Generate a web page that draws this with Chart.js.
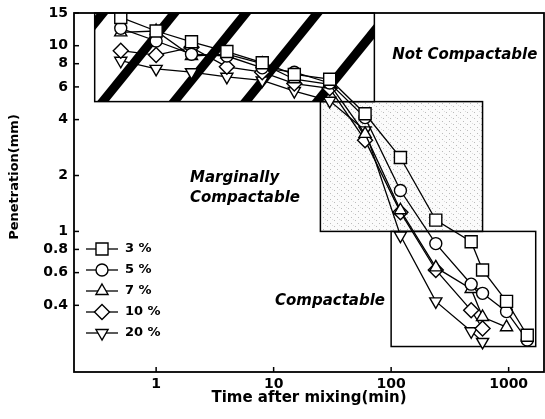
<!DOCTYPE html>
<html><head><meta charset="utf-8">
<script src="https://cdn.jsdelivr.net/npm/chart.js@4/dist/chart.umd.min.js"></script>
<style>html,body{margin:0;padding:0;background:#fff;}</style>
</head><body>
<canvas id="c" width="545" height="419"></canvas>
<script>
// ---- data ----
const seriesLabels = ['3 %', '5 %', '7 %', '10 %', '20 %'];
const times3  = [0.5, 1, 2, 4, 8, 15, 30, 60, 120, 240, 480, 600, 960, 1440];
const pen3    = [14.2, 12.0, 10.5, 9.3, 8.1, 7.0, 6.6, 4.3, 2.5, 1.15, 0.88, 0.62, 0.42, 0.276];
const times5  = [0.5, 1, 2, 4, 8, 15, 30, 60, 120, 240, 480, 600, 960, 1440];
const pen5    = [12.4, 10.6, 9.0, 8.8, 7.6, 7.2, 6.3, 4.1, 1.66, 0.86, 0.52, 0.464, 0.37, 0.26];
const times7  = [0.5, 1, 2, 4, 8, 15, 30, 60, 120, 240, 480, 600, 960];
const pen7    = [11.8, 12.0, 8.8, 9.0, 8.0, 6.6, 6.2, 3.35, 1.3, 0.64, 0.49, 0.346, 0.305];
const times10 = [0.5, 1, 2, 4, 8, 15, 30, 60, 120, 240, 480, 600];
const pen10   = [9.4, 8.9, 9.8, 7.7, 7.2, 6.25, 5.9, 3.1, 1.27, 0.62, 0.376, 0.30];
const times20 = [0.5, 1, 2, 4, 8, 15, 30, 60, 120, 240, 480, 600];
const pen20   = [8.3, 7.5, 7.2, 6.8, 6.5, 5.7, 5.05, 3.5, 0.95, 0.42, 0.29, 0.254];
const xTicks = [1, 10, 100, 1000];
const yTicks = [0.4, 0.6, 0.8, 1, 2, 4, 6, 8, 10, 15];
// zone limits (data units)
const notCompX = [0.3, 72],  notCompY = [5, 15];
const margX    = [25, 600],  margY    = [1, 5];
const compX    = [100, 1700], compY   = [0.24, 1];

const FONT = "'DejaVu Sans'";
const toPts = (t, v) => t.map((x, i) => ({x: x, y: v[i]}));
const styles = [
  {pointStyle: 'rect', rot: 0, r: 8.5},
  {pointStyle: 'circle', rot: 0, r: 6},
  {pointStyle: 'triangle', rot: 0, r: 7},
  {pointStyle: 'rectRot', rot: 0, r: 7.5},
  {pointStyle: 'triangle', rot: 180, r: 7}
];
const allData = [toPts(times3, pen3), toPts(times5, pen5), toPts(times7, pen7), toPts(times10, pen10), toPts(times20, pen20)];

const datasets = allData.map((d, i) => ({
  label: seriesLabels[i], data: d,
  borderColor: '#000', borderWidth: 1.3, backgroundColor: '#fff',
  pointStyle: styles[i].pointStyle, pointRotation: styles[i].rot,
  pointRadius: styles[i].r, pointBorderWidth: 1.4,
  pointBackgroundColor: '#fff', pointBorderColor: '#000',
  tension: 0, fill: false
}));

function stipple() {
  const c = document.createElement('canvas'); c.width = 7; c.height = 6;
  const g = c.getContext('2d');
  g.fillStyle = '#fbfbfb'; g.fillRect(0, 0, 7, 6);
  g.fillStyle = '#bbb'; g.fillRect(1, 1, 1, 1); g.fillRect(5, 4, 1, 1);
  g.fillStyle = '#ddd'; g.fillRect(3, 3, 1, 1);
  return c;
}

function drawMarker(ctx, st, x, y) {
  ctx.save();
  ctx.fillStyle = '#fff'; ctx.strokeStyle = '#000'; ctx.lineWidth = 1.4;
  if (Chart.helpers && Chart.helpers.drawPoint) {
    Chart.helpers.drawPoint(ctx, {pointStyle: st.pointStyle, rotation: st.rot, radius: st.r, borderWidth: 1.4}, x, y);
  }
  ctx.restore();
}

const zonePlugin = {
  id: 'zones',
  beforeDatasetsDraw(chart) {
    const ctx = chart.ctx, xs = chart.scales.x, ys = chart.scales.y;
    const rect = (X, Y) => {
      const l = xs.getPixelForValue(X[0]), r = xs.getPixelForValue(X[1]);
      const t = ys.getPixelForValue(Y[1]), b = ys.getPixelForValue(Y[0]);
      return {l, r, t, b};
    };
    ctx.save();
    // marginal box
    let m = rect(margX, margY);
    ctx.fillStyle = ctx.createPattern(stipple(), 'repeat');
    ctx.fillRect(m.l, m.t, m.r - m.l, m.b - m.t);
    ctx.strokeStyle = '#000'; ctx.lineWidth = 1.5;
    ctx.strokeRect(m.l, m.t, m.r - m.l, m.b - m.t);
    // compactable box
    let c = rect(compX, compY);
    ctx.strokeRect(c.l, c.t, c.r - c.l, c.b - c.t);
    // hatched not-compactable box
    let h = rect(notCompX, notCompY);
    ctx.save();
    ctx.beginPath(); ctx.rect(h.l, h.t, h.r - h.l, h.b - h.t); ctx.clip();
    ctx.fillStyle = '#fff'; ctx.fillRect(h.l, h.t, h.r - h.l, h.b - h.t);
    ctx.strokeStyle = '#000'; ctx.lineWidth = 9;
    const hgt = h.b - h.t, dx = hgt * 0.81, step = 71.5;
    for (let xb = h.l + 8 - step * 2; xb < h.r + step; xb += step) {
      ctx.beginPath(); ctx.moveTo(xb - 10 * 0.81, h.b + 10); ctx.lineTo(xb + dx + 10 * 0.81, h.t - 10); ctx.stroke();
    }
    ctx.restore();
    ctx.lineWidth = 1.5; ctx.strokeStyle = '#000';
    ctx.strokeRect(h.l, h.t, h.r - h.l, h.b - h.t);
    ctx.restore();
  },
  afterDatasetsDraw(chart) {
    const ctx = chart.ctx, a = chart.chartArea, xs = chart.scales.x, ys = chart.scales.y;
    ctx.save();
    // frame
    ctx.strokeStyle = '#000'; ctx.lineWidth = 1.8;
    ctx.strokeRect(a.left, a.top, a.right - a.left, a.bottom - a.top);
    // inward ticks
    ctx.lineWidth = 1.5;
    yTicks.forEach(v => { const y = ys.getPixelForValue(v); ctx.beginPath(); ctx.moveTo(a.left, y); ctx.lineTo(a.left + 5, y); ctx.stroke(); });
    xTicks.forEach(v => { const x = xs.getPixelForValue(v); ctx.beginPath(); ctx.moveTo(x, a.bottom); ctx.lineTo(x, a.bottom - 5); ctx.stroke(); });
    // legend
    ctx.font = `bold 13px ${FONT}`; ctx.fillStyle = '#000'; ctx.textBaseline = 'middle'; ctx.textAlign = 'left';
    styles.forEach((st, i) => {
      const y = 249 + i * 21, x0 = a.left + 12;
      ctx.lineWidth = 1.3; ctx.beginPath(); ctx.moveTo(x0, y); ctx.lineTo(x0 + 32, y); ctx.stroke();
      drawMarker(ctx, st, x0 + 16, y);
      ctx.fillStyle = '#000';
      ctx.fillText(seriesLabels[i], x0 + 39, y);
    });
    // zone labels
    ctx.font = `italic bold 15px ${FONT}`;
    ctx.fillText('Not Compactable', xs.getPixelForValue(100) + 1, 55);
    ctx.fillText('Marginally', 190, 178);
    ctx.fillText('Compactable', 190, 198);
    ctx.fillText('Compactable', 275, 301);
    // axis titles
    ctx.textAlign = 'center';
    ctx.font = `bold 15px ${FONT}`;
    ctx.fillText('Time after mixing(min)', (a.left + a.right) / 2, 398);
    ctx.save();
    ctx.translate(15, 177); ctx.rotate(-Math.PI / 2);
    ctx.font = `bold 13px ${FONT}`;
    ctx.fillText('Penetration(mm)', 0, 0);
    ctx.restore();
    ctx.restore();
  }
};

new Chart(document.getElementById('c'), {
  type: 'line',
  data: {datasets},
  options: {
    responsive: false, animation: false, devicePixelRatio: 1,
    layout: {autoPadding: false, padding: {left: 0, right: 1, top: 13, bottom: 0}},
    plugins: {legend: {display: false}, tooltip: {enabled: false}},
    scales: {
      x: {
        type: 'logarithmic', min: 0.2, max: 2000,
        grid: {display: false, drawTicks: false}, border: {display: false},
        ticks: {font: {family: FONT, weight: 'bold', size: 14}, color: '#000', padding: 4, maxRotation: 0, autoSkip: false, callback: v => String(v)},
        afterBuildTicks: s => { s.ticks = xTicks.map(v => ({value: v})); },
        afterFit: s => { s.height = 47; s.paddingLeft = 0; s.paddingRight = 0; }
      },
      y: {
        type: 'logarithmic', min: 0.175, max: 15,
        grid: {display: false, drawTicks: false}, border: {display: false},
        ticks: {font: {family: FONT, weight: 'bold', size: 14}, color: '#000', padding: 6, autoSkip: false, callback: v => String(v)},
        afterBuildTicks: s => { s.ticks = yTicks.map(v => ({value: v})); },
        afterFit: s => { s.width = 74; s.paddingTop = 0; s.paddingBottom = 0; }
      }
    }
  },
  plugins: [zonePlugin]
});
</script>
</body></html>
